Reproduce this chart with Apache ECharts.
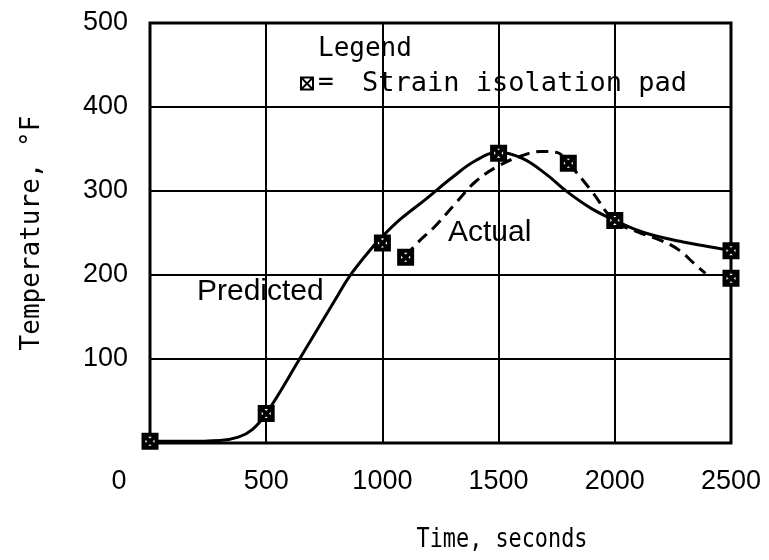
<!DOCTYPE html>
<html>
<head>
<meta charset="utf-8">
<script src="https://cdn.jsdelivr.net/npm/echarts@6/dist/echarts.min.js"></script>
<style>
  html, body { margin: 0; padding: 0; background: #fff; }
  #chart { width: 769px; height: 560px; }
</style>
</head>
<body>
<div id="chart"></div>
<script>
// Axis tick values
const timeTicks = [0, 500, 1000, 1500, 2000, 2500];
const tempTicks = [0, 100, 200, 300, 400, 500];

// Predicted temperature history (solid curve): [time, s ; temperature, °F]
const predictedCurve = [
  [0, 2], [150, 2], [300, 3], [380, 7], [440, 16], [500, 35], [650, 103],
  [800, 172], [860, 199], [960, 234], [1000, 246], [1080, 267], [1190, 291],
  [1300, 316], [1400, 336], [1500, 346], [1600, 339], [1700, 321], [1800, 298],
  [1900, 279], [2000, 265], [2100, 253], [2200, 245], [2300, 239], [2400, 234],
  [2500, 229]
];

// Measured temperature history (dashed curve)
const actualCurve = [
  [1100, 222], [1150, 238], [1230, 259], [1320, 287], [1400, 311], [1500, 330],
  [1600, 342], [1680, 347], [1750, 346], [1800, 333], [1900, 300], [2000, 264],
  [2100, 251], [2200, 241], [2280, 229], [2340, 214], [2390, 202]
];

// Strain isolation pad readings
const padPoints = [
  [0, 2], [500, 35], [1000, 238], [1100, 221], [1500, 345],
  [1800, 333], [2000, 265], [2500, 229], [2500, 196]
];

const MONO = '"DejaVu Sans Mono", monospace';
const SANS = '"Liberation Sans", Arial, sans-serif';
const padSymbol = 'path://M0,0H20V20H0ZM0,0L20,20M20,0L0,20';

const chart = echarts.init(document.getElementById('chart'), null, { renderer: 'canvas' });

chart.setOption({
  backgroundColor: '#fff',
  animation: false,
  grid: {
    left: 150, right: 38, top: 23, bottom: 117,
    show: true, borderColor: '#000', borderWidth: 3
  },
  xAxis: {
    type: 'value',
    min: timeTicks[0], max: timeTicks[timeTicks.length - 1],
    interval: timeTicks[1] - timeTicks[0],
    axisLine: { show: false },
    axisTick: { show: false },
    splitLine: { show: true, lineStyle: { color: '#000', width: 2 } },
    axisLabel: {
      margin: 25,
      fontFamily: SANS, fontSize: 27, color: '#000',
      formatter: v => (v === 0 ? '{z|0}' : String(v)),
      rich: { z: { fontFamily: SANS, fontSize: 27, color: '#000', padding: [0, 62, 0, 0] } }
    }
  },
  yAxis: {
    type: 'value',
    min: tempTicks[0], max: tempTicks[tempTicks.length - 1],
    interval: tempTicks[1] - tempTicks[0],
    name: 'Temperature, °F',
    nameLocation: 'middle',
    nameRotate: 90,
    nameGap: 105,
    nameTextStyle: { fontFamily: MONO, fontSize: 26, color: '#000' },
    axisLine: { show: false },
    axisTick: { show: false },
    splitLine: { show: true, lineStyle: { color: '#000', width: 2 } },
    axisLabel: {
      margin: 22,
      fontFamily: SANS, fontSize: 27, color: '#000',
      formatter: v => (v === 0 ? '' : String(v))
    }
  },
  legend: {
    show: true,
    selectedMode: false,
    data: ['Strain isolation pad'],
    left: 295, top: 65,
    itemWidth: 12, itemHeight: 12,
    formatter: name => '{eq|=}{nm|' + name + '}',
    textStyle: {
      color: '#000',
      rich: {
        eq: { fontFamily: MONO, fontSize: 26, color: '#000', width: 44 },
        nm: { fontFamily: MONO, fontSize: 27, color: '#000' }
      }
    }
  },
  graphic: [
    { type: 'text', left: 318, top: 36, silent: true,
      style: { text: 'Legend', fontFamily: MONO, fontSize: 26, fill: '#000' } },
    { type: 'text', x: 502, y: 540, scaleX: 0.84, silent: true,
      style: { text: 'Time, seconds', fontFamily: MONO, fontSize: 26, fill: '#000',
               align: 'center', verticalAlign: 'middle' } },
    { type: 'text', left: 197, top: 277, silent: true,
      style: { text: 'Predicted', fontFamily: SANS, fontSize: 30, fill: '#000' } },
    { type: 'text', left: 448, top: 218, silent: true,
      style: { text: 'Actual', fontFamily: SANS, fontSize: 30, fill: '#000' } }
  ],
  series: [
    {
      name: 'Predicted',
      type: 'line',
      data: predictedCurve,
      smooth: 0.4,
      showSymbol: false,
      lineStyle: { color: '#000', width: 3 },
      z: 3
    },
    {
      name: 'Actual',
      type: 'line',
      data: actualCurve,
      smooth: 0.4,
      showSymbol: false,
      lineStyle: { color: '#000', width: 3, type: [12, 7] },
      z: 3
    },
    {
      name: 'Strain isolation pad',
      type: 'scatter',
      data: padPoints,
      symbol: padSymbol,
      symbolSize: 13,
      itemStyle: { color: '#fff', borderColor: '#000', borderWidth: 4, opacity: 1 },
      z: 5
    }
  ]
});
</script>
</body>
</html>
